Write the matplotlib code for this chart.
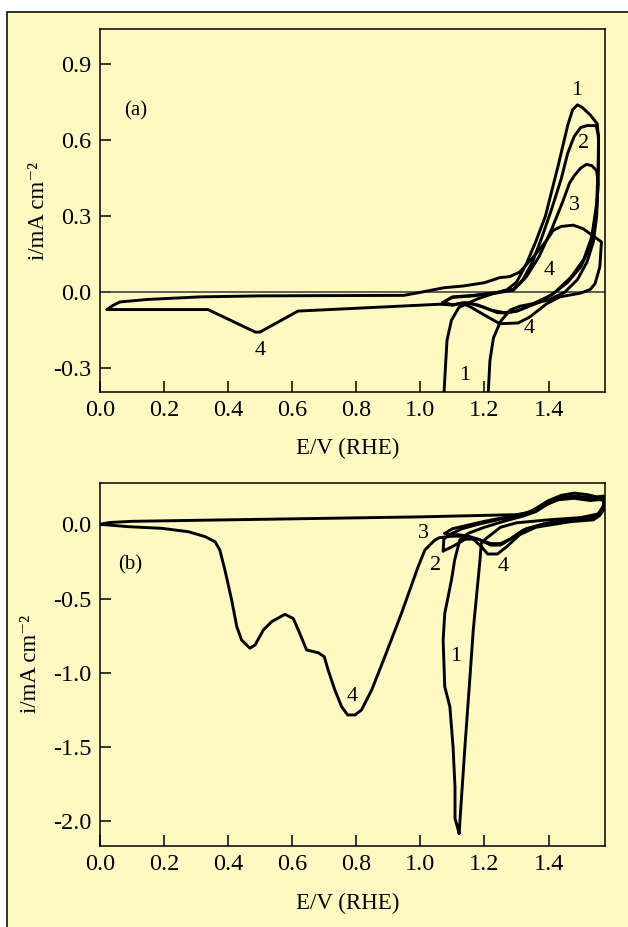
import numpy as np
import matplotlib
matplotlib.use("Agg")
import matplotlib.pyplot as plt
from matplotlib.patches import Rectangle
from matplotlib.ticker import MultipleLocator, FormatStrFormatter, FixedLocator

plt.rcParams['font.family'] = ['Liberation Serif', 'DejaVu Serif']
plt.rcParams['axes.unicode_minus'] = False

# ---------------- panel (a) ----------------
# cycle 1
a1_E = [1.074, 1.078, 1.083, 1.097, 1.12, 1.145, 1.18, 1.22, 1.27, 1.30, 1.33, 1.36, 1.39, 1.43, 1.46,
        1.475, 1.49, 1.505, 1.53, 1.552, 1.556, 1.555, 1.55, 1.54, 1.52, 1.49, 1.45, 1.40, 1.35, 1.31,
        1.28, 1.25, 1.228, 1.217, 1.212]
a1_i = [-0.39, -0.30, -0.19, -0.11, -0.06, -0.045, -0.025, -0.008, 0.01, 0.04, 0.11, 0.20, 0.30, 0.50, 0.66,
        0.72, 0.74, 0.73, 0.70, 0.665, 0.60, 0.45, 0.30, 0.20, 0.12, 0.05, 0.0, -0.03, -0.045, -0.055,
        -0.07, -0.115, -0.18, -0.27, -0.39]
# cycle 2
a2_E = [1.07, 1.10, 1.165, 1.24, 1.29, 1.32, 1.35, 1.38, 1.41, 1.44, 1.46, 1.48, 1.50, 1.52, 1.548, 1.556,
        1.555, 1.55, 1.535, 1.51, 1.47, 1.42, 1.37, 1.31, 1.27, 1.24, 1.20, 1.16, 1.13, 1.10, 1.07]
a2_i = [-0.04, -0.018, -0.012, 0.0, 0.012, 0.05, 0.12, 0.22, 0.33, 0.45, 0.55, 0.615, 0.65, 0.658, 0.658, 0.62,
        0.50, 0.35, 0.22, 0.13, 0.06, 0.0, -0.04, -0.07, -0.082, -0.08, -0.06, -0.045, -0.045, -0.05, -0.04]
# cycle 3
a3_E = [1.07, 1.10, 1.165, 1.24, 1.29, 1.33, 1.37, 1.41, 1.445, 1.465, 1.48, 1.50, 1.518, 1.535, 1.55, 1.555,
        1.55, 1.544, 1.53, 1.50, 1.46, 1.41, 1.36, 1.30, 1.26, 1.22, 1.18, 1.14, 1.10, 1.07]
a3_i = [-0.04, -0.02, -0.014, -0.002, 0.008, 0.06, 0.14, 0.25, 0.36, 0.43, 0.46, 0.49, 0.505, 0.50, 0.48, 0.43,
        0.33, 0.28, 0.18, 0.10, 0.04, -0.01, -0.04, -0.075, -0.08, -0.07, -0.05, -0.04, -0.05, -0.04]
# cycle 4
a4_E = [0.022, 0.04, 0.062, 0.15, 0.312, 0.5, 0.7, 0.948, 1.0, 1.073, 1.134, 1.2, 1.248, 1.279, 1.31, 1.352,
        1.394, 1.415, 1.44, 1.477, 1.508, 1.565, 1.56, 1.545, 1.53, 1.50, 1.435, 1.394, 1.342, 1.305, 1.248,
        1.20, 1.16, 1.13, 1.10, 1.061, 0.618, 0.499, 0.485, 0.337, 0.022]
a4_i = [-0.068, -0.052, -0.038, -0.028, -0.018, -0.014, -0.013, -0.012, 0.0, 0.018, 0.025, 0.038, 0.058, 0.062,
        0.08, 0.139, 0.205, 0.245, 0.26, 0.265, 0.251, 0.199, 0.10, 0.034, 0.011, -0.003, -0.018, -0.045, -0.097,
        -0.121, -0.124, -0.09, -0.06, -0.042, -0.05, -0.047, -0.074, -0.157, -0.157, -0.068, -0.068]

a_labels = [("1", 1.487, 0.795), ("2", 1.508, 0.587), ("3", 1.482, 0.343), ("4", 1.402, 0.087),
            ("4", 1.339, -0.143), ("4", 0.499, -0.229), ("1", 1.139, -0.328)]
a_yticks = [-0.3, 0.0, 0.3, 0.6, 0.9]

# ---------------- panel (b) ----------------
b1_E = [1.121, 1.108, 1.108, 1.102, 1.092, 1.076, 1.071, 1.076, 1.097, 1.107, 1.123, 1.15, 1.20, 1.26, 1.32,
        1.36, 1.40, 1.44, 1.48, 1.53, 1.575, 1.57, 1.555, 1.50, 1.40, 1.30, 1.25, 1.206, 1.19, 1.186, 1.18,
        1.165, 1.154, 1.139, 1.125, 1.121]
b1_i = [-2.08, -1.98, -1.77, -1.50, -1.227, -1.093, -0.78, -0.60, -0.375, -0.24, -0.105, -0.06, -0.02, 0.02,
        0.055, 0.085, 0.14, 0.18, 0.19, 0.18, 0.18, 0.12, 0.07, 0.045, 0.03, 0.01, -0.02, -0.094, -0.128, -0.24,
        -0.375, -0.711, -1.048, -1.497, -1.945, -2.08]
b2_E = [1.071, 1.073, 1.09, 1.13, 1.18, 1.25, 1.32, 1.36, 1.39, 1.43, 1.48, 1.53, 1.575, 1.57, 1.55, 1.48,
        1.38, 1.32, 1.28, 1.25, 1.22, 1.18, 1.14, 1.10, 1.071]
b2_i = [-0.18, -0.10, -0.07, -0.03, 0.0, 0.035, 0.06, 0.09, 0.13, 0.165, 0.175, 0.16, 0.17, 0.09, 0.05, 0.03,
        0.0, -0.04, -0.10, -0.13, -0.13, -0.10, -0.10, -0.15, -0.18]
b3_E = [1.076, 1.10, 1.15, 1.20, 1.26, 1.32, 1.36, 1.39, 1.43, 1.48, 1.52, 1.56, 1.575, 1.57, 1.55, 1.50,
        1.40, 1.33, 1.28, 1.25, 1.22, 1.18, 1.15, 1.12, 1.09, 1.076]
b3_i = [-0.061, -0.03, -0.005, 0.02, 0.045, 0.07, 0.10, 0.14, 0.175, 0.185, 0.17, 0.165, 0.16, 0.10, 0.06, 0.04,
        0.01, -0.03, -0.10, -0.14, -0.14, -0.10, -0.08, -0.07, -0.07, -0.061]
b4_E = [0.0, 0.03, 0.1, 1.0, 1.30, 1.34, 1.37, 1.40, 1.44, 1.48, 1.52, 1.55, 1.572, 1.575, 1.57, 1.56, 1.54,
        1.47, 1.36, 1.31, 1.27, 1.24, 1.21, 1.19, 1.16, 1.14, 1.10, 1.06, 1.045, 1.014, 0.993, 0.941, 0.889,
        0.848, 0.816, 0.796, 0.773, 0.754, 0.733, 0.712, 0.70, 0.681, 0.645, 0.619, 0.603, 0.577, 0.536, 0.51,
        0.484, 0.468, 0.442, 0.427, 0.411, 0.39, 0.374, 0.359, 0.328, 0.276, 0.192, 0.088, 0.0]
b4_i = [0.0, 0.012, 0.02, 0.05, 0.065, 0.08, 0.12, 0.16, 0.195, 0.21, 0.20, 0.185, 0.19, 0.15, 0.10, 0.06, 0.03,
        0.018, -0.02, -0.07, -0.15, -0.20, -0.20, -0.15, -0.09, -0.08, -0.08, -0.09, -0.106, -0.173, -0.285,
        -0.599, -0.891, -1.115, -1.25, -1.283, -1.283, -1.227, -1.115, -0.98, -0.891, -0.864, -0.846, -0.711,
        -0.633, -0.606, -0.655, -0.711, -0.812, -0.834, -0.779, -0.689, -0.51, -0.308, -0.173, -0.117, -0.083,
        -0.05, -0.027, -0.016, 0.0]

b_labels = [("3", 1.009, -0.061), ("2", 1.048, -0.274), ("4", 1.258, -0.285), ("1", 1.111, -0.891),
            ("4", 0.786, -1.156)]
b_yticks = [-2.0, -1.5, -1.0, -0.5, 0.0]

yellow = "#fef9c1"
lw = 2.1

fig = plt.figure(figsize=(6.28, 9.27), dpi=100)
fig.patch.set_facecolor("white")
# cream background with a thin frame, open at right/bottom edges
fig.patches.append(Rectangle((6.5 / 628, -0.1), 1.2, 1.1 - 12.5 / 927, transform=fig.transFigure,
                             facecolor=yellow, edgecolor="#222222", linewidth=1.3, zorder=-10))


def style_axis(ax, ylim, yticks, ylab_x, xlab_y):
    ax.set_facecolor(yellow)
    ax.set_xlim(0, 1.576)
    ax.set_ylim(*ylim)
    ax.xaxis.set_major_locator(MultipleLocator(0.2))
    ax.xaxis.set_major_formatter(FormatStrFormatter('%.1f'))
    ax.yaxis.set_major_locator(FixedLocator(yticks))
    ax.yaxis.set_major_formatter(FormatStrFormatter('%.1f'))
    ax.tick_params(direction='in', length=8, width=1.1, labelsize=17.5, pad=6)
    for s in ax.spines.values():
        s.set_linewidth(1.1)
    ax.set_xlabel("E/V (RHE)", fontsize=16.5)
    ax.xaxis.set_label_coords(0.49, xlab_y)
    ax.set_ylabel("i/mA cm\u207b\u00b2", fontsize=16.5)
    ax.yaxis.set_label_coords(ylab_x, 0.5)


ax1 = fig.add_axes([0.1592, 0.5775, 0.8041, 0.3909])
style_axis(ax1, (-0.392, 1.038), a_yticks, -0.101, -0.128)
ax1.axhline(0, color="#444444", linewidth=1.2)
for E, i in [(a1_E, a1_i), (a2_E, a2_i), (a3_E, a3_i), (a4_E, a4_i)]:
    ax1.plot(E, i, color="black", linewidth=lw, solid_joinstyle="round", solid_capstyle="round")
for t, x, y in a_labels:
    ax1.text(x, y, t, fontsize=16, ha="center", va="center")
ax1.text(0.112, 0.718, "(a)", fontsize=15, ha="center", va="center")

ax2 = fig.add_axes([0.1592, 0.0877, 0.8041, 0.3916])
style_axis(ax2, (-2.163, 0.28), b_yticks, -0.117, -0.130)
for E, i in [(b1_E, b1_i), (b2_E, b2_i), (b3_E, b3_i), (b4_E, b4_i)]:
    ax2.plot(E, i, color="black", linewidth=lw, solid_joinstyle="round", solid_capstyle="round")
for t, x, y in b_labels:
    ax2.text(x, y, t, fontsize=16, ha="center", va="center")
ax2.text(0.094, -0.274, "(b)", fontsize=15, ha="center", va="center")

fig.savefig("out.png", dpi=100)
